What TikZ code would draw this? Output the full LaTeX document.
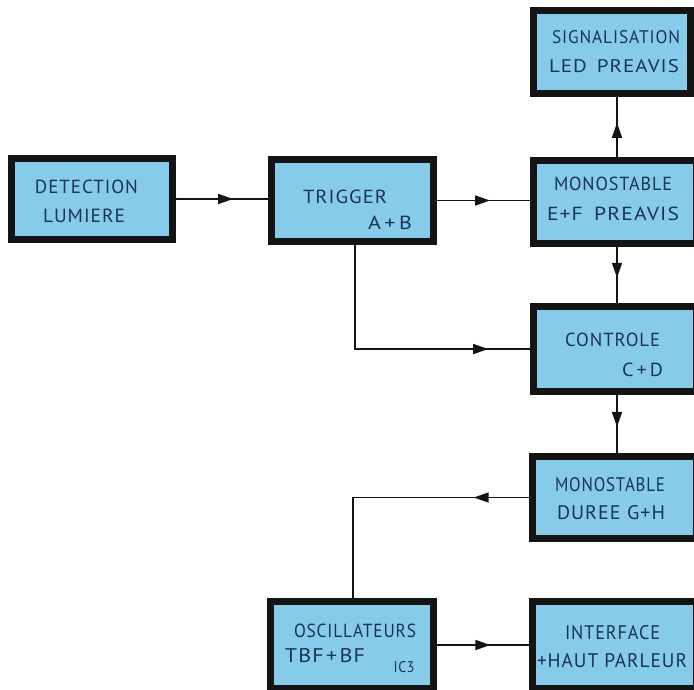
\documentclass[tikz,border=0pt]{standalone}
\usepackage{fontspec}
\usepackage{graphicx}
\newfontfamily\labfont[LetterSpace=5]{PT Sans}
\usetikzlibrary{arrows.meta,decorations.markings,calc}
\definecolor{boxblue}{HTML}{86CCEA}
\definecolor{boxline}{HTML}{141414}
\definecolor{labcol}{HTML}{1C3352}
\newcommand\fitlab[3]{\resizebox{#1pt}{#2pt}{\labfont\fontsize{19}{22}\selectfont #3}}
\tikzset{
  blk/.style={draw=boxline, fill=boxblue, line width=7pt, inner sep=0pt},
  lab/.style={text=labcol, inner sep=0pt, anchor=center},
  wire/.style={draw=boxline, line width=1.6pt},
  midarrow/.style={postaction={decorate}, decoration={markings,
     mark=at position #1 with {\arrow{Triangle[length=15pt,width=10pt]}}}}
}
\begin{document}
\begin{tikzpicture}[x=1pt,y=-1pt]
\useasboundingbox (0,0) rectangle (694,689);
% boxes (outer edges minus half line width)
\node[blk, minimum width=161pt, minimum height=81pt] (det) at (92,199) {};
\node[blk, minimum width=162pt, minimum height=82pt] (trig) at (352.5,200.5) {};
\node[blk, minimum width=157pt, minimum height=83pt] (sig) at (612,52) {};
\node[blk, minimum width=163pt, minimum height=83pt] (mef) at (615,202) {};
\node[blk, minimum width=163pt, minimum height=85pt] (ctl) at (615,349) {};
\node[blk, minimum width=164pt, minimum height=82pt] (mgh) at (614.5,497.5) {};
\node[blk, minimum width=163pt, minimum height=87pt] (osc) at (352,645) {};
\node[blk, minimum width=164pt, minimum height=87pt] (int) at (614.5,645) {};
% labels
\node[lab] (detA) at (86.5,186.5) {\fitlab{103}{13.5}{DETECTION}};
\node[lab] (detB) at (84,215.5) {\fitlab{82}{13.5}{LUMIERE}};
\node[lab] (trigA) at (345,196.5) {\fitlab{84}{13.5}{TRIGGER}};
\node[lab] (trigB) at (390,222.5) {\fitlab{44}{13.5}{A\kern3pt+\kern3pt B}};
\node[lab] (sigA) at (616,37.5) {\fitlab{128}{13}{SIGNALISATION}};
\node[lab] (sigB) at (614,66.5) {\fitlab{130}{13}{LED\hspace{9pt}PREAVIS}};
\node[lab] (mefA) at (613,183.5) {\fitlab{118}{13.5}{MONOSTABLE}};
\node[lab] (mefB) at (613,214) {\fitlab{132}{13.5}{E+F\hspace{4pt} PREAVIS}};
\node[lab] (ctlA) at (612.5,339.5) {\fitlab{95}{13.5}{CONTROLE}};
\node[lab] (ctlB) at (642.5,370) {\fitlab{41}{13.5}{C\kern3pt+\kern3pt D}};
\node[lab] (mghA) at (610,485) {\fitlab{110}{14}{MONOSTABLE}};
\node[lab] (mghB) at (611,512.5) {\fitlab{108}{14}{DUREE G+H}};
\node[lab] (oscA) at (355,631) {\fitlab{122}{13.5}{OSCILLATEURS}};
\node[lab] (oscB) at (325,656) {\fitlab{80}{14}{TBF\kern2pt+\kern2pt BF}};
\node[lab] (oscC) at (404,667) {\fitlab{21}{11}{IC3}};
\node[lab] (intA) at (612.5,632.5) {\fitlab{95}{14}{INTERFACE}};
\node[lab] (intB) at (612,660.5) {\fitlab{150}{14}{+HAUT PARLEUR}};
% wires
\coordinate (vx) at (617,0);
\coordinate (tx) at (355,0);
\coordinate (ox) at (353,0);
\draw[wire, midarrow=0.62] (det.east) -- (det.east -| trig.west);
\draw[wire, midarrow=0.57] (trig.east) -- (trig.east -| mef.west);
\draw[wire, midarrow=0.57] (mef.north -| vx) -- (sig.south -| vx);
\draw[wire, midarrow=0.55] (mef.south -| vx) -- (ctl.north -| vx);
\draw[wire, midarrow=0.55] (ctl.south -| vx) -- (mgh.north -| vx);
\draw[wire, midarrow=0.85] (trig.south -| tx) |- (ctl.west);
\draw[wire, midarrow=0.2] (mgh.west) -| (osc.north -| ox);
\draw[wire, midarrow=0.58] (osc.east) -- (osc.east -| int.west);
\end{tikzpicture}
\end{document}
